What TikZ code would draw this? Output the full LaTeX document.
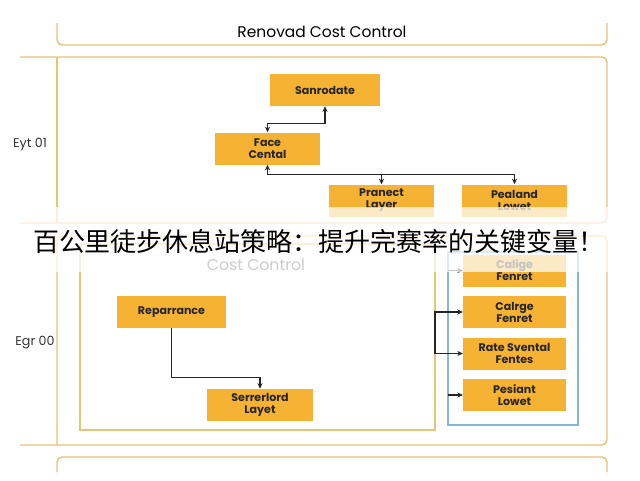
\documentclass[tikz,border=0pt]{standalone}
\usepackage{fontspec}
\setmainfont{Poppins}
\newfontfamily\cjk{Noto Sans CJK SC}
\usetikzlibrary{arrows.meta, calc}

\definecolor{boxorange}{HTML}{F6B232}
\definecolor{frametan}{HTML}{E8C378}
\definecolor{panelblue}{HTML}{86B6D6}

\begin{document}
\begin{tikzpicture}[x=0.75pt, y=-0.75pt, >={Stealth[length=4.2pt,width=3.8pt]},
  frame/.style={draw=frametan, line width=1.1pt, rounded corners=4pt},
  box/.style={fill=boxorange, minimum width=79pt, minimum height=24pt, inner sep=1pt,
    align=center, text=black!85, font=\fontsize{8.3}{9}\selectfont\bfseries},
  link/.style={draw=black!85, line width=1pt},
  side/.style={text=black!80, font=\fontsize{9.5}{11}\selectfont}]

  % Page
  \useasboundingbox (0,0) rectangle (640,480);
  \fill[white] (0,0) rectangle (640,480);

  % Frames
  \draw[frame] (57,23) -- (57,45) -- (607,45) -- (607,23);
  \draw[frame] (20,57) -- (607,57) -- (607,223) -- (20,223);
  \draw[frametan, line width=1.1pt] (57,57) -- (57,223);
  \draw[frame] (20,445) -- (607,445) -- (607,236) -- (57,236) -- (57,445);
  \draw[frametan, line width=1.1pt] (80,430) -- (80,244) -- (435,244) -- (435,430) -- cycle;
  \draw[panelblue, line width=1pt] (448,252) rectangle (578,425);
  \draw[frame] (57,472) -- (57,457) -- (607,457) -- (607,472);

  % Corner coordinates
  \coordinate (inNE) at (435,244);  % inner frame, top right
  \coordinate (blNW) at (448,252);  % blue frame, top left

  % Titles
  \node[font=\fontsize{11.6}{13}\selectfont] (ttl) at (322,32) {Renovad Cost Control};
  \node[side] (eyt) at (30,144) {Eyt 01};
  \node[side] (egr) at (35,343) {Egr 00};
  \node[text=black!70, font=\fontsize{11.8}{13}\selectfont] (cc) at (256,265) {Cost Control};

  % Upper panel
  \node[box, minimum width=82pt] (sano) at (325,90) {Sanrodate};
  \node[box] (face) at (267.5,148.5) {Face\\Cental};
  \node[box] (pran) at (381.5,200.5) {Pranect\\Layer};
  \node[box] (peal) at (514.5,200.5) {Pealand\\Lowet};

  \draw[link, <->] (face.north) -- ++(0,-9) -| (sano.south);
  \coordinate (bus) at ($(face.south)+(0,10)$);
  \draw[link, <->] (face.south) -- (bus) -| (peal.north);
  \draw[link, ->] (bus -| pran.north) -- (pran.north);

  % Lower panel
  \node[box, minimum width=82pt] (rep) at (171.5,312) {Reparrance};
  \node[box] (serr) at (260,405) {Serrerlord\\Layet};
  \draw[link, ->] (rep.south) |- ($(serr.north)+(0,-11)$) -- (serr.north);

  \node[box, minimum width=77pt] (cal1) at (514.5,270.5) {Calige\\Fenret};
  \node[box, minimum width=77pt] (cal2) at (514.5,312) {Calrge\\Fenret};
  \node[box, minimum width=77pt] (rate) at (514.5,353.5) {Rate Svental\\Fentes};
  \node[box, minimum width=77pt] (pes) at (514.5,395) {Pesiant\\Lowet};

  \draw[link, ->] (inNE |- rate.west) |- (cal2.west);
  \draw[link, ->] (inNE |- rate.west) -- (rate.west);
  \draw[link, ->] (blNW |- cal1.west) -- (cal1.west);
  \draw[link, ->] (blNW |- pes.west) -- (pes.west);

  % Caption band
  \fill[white, opacity=0.72] (0,207) rectangle (640,272);
  \node[font=\cjk\fontsize{19.5}{22}\selectfont] (cap) at (319,242)
    {百公里徒步休息站策略：提升完赛率的关键变量！};

\end{tikzpicture}
\end{document}
